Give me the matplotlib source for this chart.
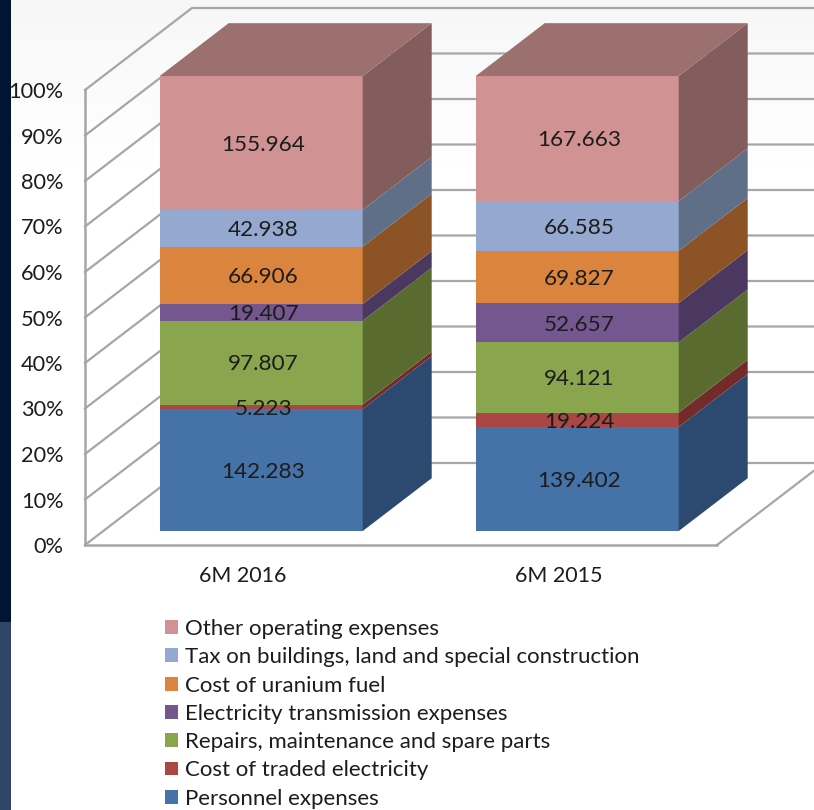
import numpy as np
import matplotlib.pyplot as plt
from matplotlib.patches import Patch, Rectangle

plt.rcParams['font.family'] = ['Lato', 'DejaVu Sans']

periods = ['6M 2016', '6M 2015']
series = ['Personnel expenses', 'Cost of traded electricity',
          'Repairs, maintenance and spare parts', 'Electricity transmission expenses',
          'Cost of uranium fuel', 'Tax on buildings, land and special construction',
          'Other operating expenses']
personnel = [142.283, 139.402]
traded = [5.223, 19.224]
repairs = [97.807, 94.121]
transmission = [19.407, 52.657]
uranium = [66.906, 69.827]
tax = [42.938, 66.585]
other = [155.964, 167.663]
pct_ticks = [0, 10, 20, 30, 40, 50, 60, 70, 80, 90, 100]

colors = ['#4572a7', '#aa4643', '#89a54e', '#75578f', '#db843d', '#95a9d0', '#d09292']
side_colors = ['#2c4a70', '#722b2a', '#5a6b30', '#4a3860', '#8b5326', '#5f6f88', '#835c5c']
top_color = '#9c706f'
grid_color = '#a6a6a6'
text_color = '#1c1c1c'

W, H = 814, 810
fig = plt.figure(figsize=(W / 100, H / 100), dpi=100, facecolor='white')

# pale gradient behind everything, strip on the left edge
bg = fig.add_axes([0, 0, 1, 1], zorder=-1)
bg.imshow(np.clip(np.linspace(0.965, 1.12, 256), 0, 1).reshape(-1, 1), cmap='gray',
          vmin=0, vmax=1, aspect='auto')
bg.axis('off')
fig.add_artist(Rectangle((0, 188 / H), 11 / W, 622 / H, transform=fig.transFigure,
                         color='#001534', lw=0))
fig.add_artist(Rectangle((0, 0), 11 / W, 188 / H, transform=fig.transFigure,
                         color='#2f4565', lw=0))

# axes = front plane of the 3d box
ax = fig.add_axes([85 / W, (H - 545) / H, 632 / W, 455 / H], zorder=1)
ax.set_xlim(-0.5, 1.5)
ax.set_ylim(0, 100)
ax.patch.set_alpha(0)

# oblique offset of the box depth, in data units
depth_x = 107 / 316
depth_y = 82 / 4.55
bar_front = 0.17
bar_back = 0.815
bar_w = 203 / 316

# walls and floor
for p in pct_ticks:
    ax.plot([-0.5, -0.5 + depth_x, 1.5 + depth_x], [p, p + depth_y, p + depth_y],
            color=grid_color, lw=1.6, clip_on=False, zorder=1)
ax.plot([1.5, 1.5 + depth_x], [0, depth_y], color=grid_color, lw=1.6, clip_on=False, zorder=1)

table = np.array([personnel, traded, repairs, transmission, uranium, tax, other])
shares = table / table.sum(axis=0) * 100
bottoms = np.vstack([np.zeros(2), shares.cumsum(axis=0)[:-1]])

x0 = np.arange(len(periods)) + bar_front * depth_x
dx = (bar_back - bar_front) * depth_x
dy = (bar_back - bar_front) * depth_y
shift = bar_front * depth_y

for i in range(len(series)):
    ax.bar(x0, shares[i], bar_w, bottom=bottoms[i] + shift, color=colors[i], lw=0,
           clip_on=False, zorder=3)
    for j in range(len(periods)):
        xr = x0[j] + bar_w / 2
        y1 = bottoms[i][j] + shift
        y2 = y1 + shares[i][j]
        ax.fill([xr, xr + dx, xr + dx, xr], [y1, y1 + dy, y2 + dy, y2],
                color=side_colors[i], lw=0, clip_on=False, zorder=3)
        ax.text(x0[j] + 0.006, y1 + shares[i][j] / 2 - 0.4, f'{table[i][j]:.3f}', ha='center',
                va='center', fontsize=16.2, color=text_color, zorder=4)

# top faces
for j in range(len(periods)):
    xl, xr = x0[j] - bar_w / 2, x0[j] + bar_w / 2
    y = 100 + shift
    ax.fill([xl, xr, xr + dx, xl + dx], [y, y, y + dy, y + dy],
            color=top_color, lw=0, clip_on=False, zorder=3)

ax.set_yticks(pct_ticks, [f'{p}%' for p in pct_ticks])
ax.set_xticks(range(len(periods)), periods)
ax.tick_params(axis='y', length=0, pad=15.5, labelsize=15.7, labelcolor=text_color)
ax.tick_params(axis='x', length=0, pad=15, labelsize=15.5, labelcolor=text_color)
for side in ['top', 'right']:
    ax.spines[side].set_visible(False)
for side in ['left', 'bottom']:
    ax.spines[side].set_color(grid_color)
    ax.spines[side].set_linewidth(1.8)

handles = [Patch(color=c, lw=0) for c in colors]
ax.legend(handles[::-1], series[::-1], loc='upper left',
          bbox_to_anchor=(165 / W, 1 - 619 / H), bbox_transform=fig.transFigure,
          frameon=False, fontsize=16, labelcolor=text_color, borderpad=0, borderaxespad=0,
          handlelength=0.585, handleheight=0.585, handletextpad=0.32, labelspacing=0.372)

plt.savefig('out.png', dpi=100)
